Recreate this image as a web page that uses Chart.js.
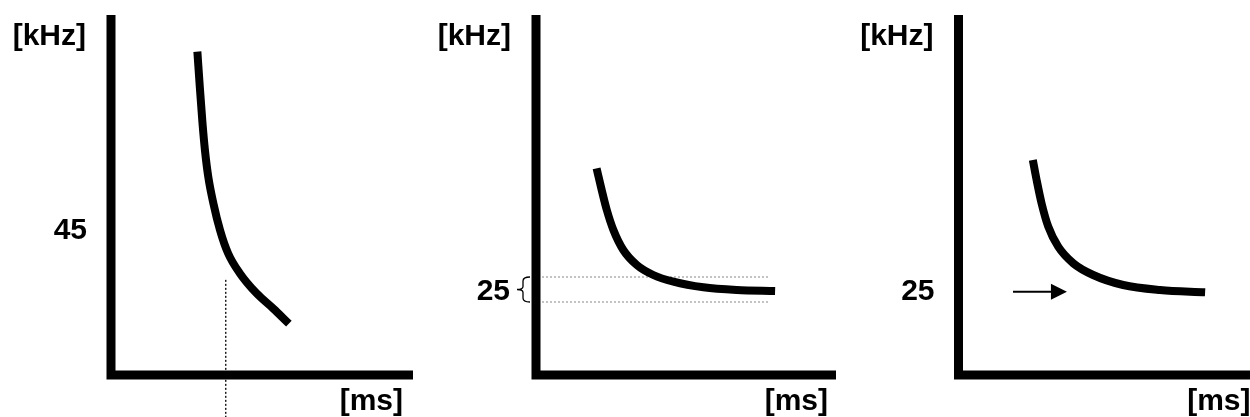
<!DOCTYPE html>
<html lang="en">
<head>
<meta charset="UTF-8">
<title>Frequency vs time</title>
<script src="https://cdn.jsdelivr.net/npm/chart.js"></script>
<style>
    body { margin: 0; background: #fff; overflow: hidden; }
    .wrap { position: relative; width: 1250px; height: 417px; }
    canvas { position: absolute; top: 0; }
</style>
</head>
<body>
<div class="wrap">
    <canvas id="p1" width="420" height="417" style="left:0px"></canvas>
    <canvas id="p2" width="420" height="417" style="left:420px"></canvas>
    <canvas id="p3" width="410" height="417" style="left:840px"></canvas>
</div>
<script>
    // axis labels
    const yTitle = '[kHz]';
    const xTitle = '[ms]';

    // panel 1: steep curve, marker time
    const p1Time = [28.6, 29.4, 30.3, 31.1, 32.2, 33.9, 36.1, 38.8, 42.7, 48.2, 53.7, 58.9];
    const p1Freq = [100.6, 89.7, 78.3, 70.0, 61.7, 53.4, 45.1, 37.8, 31.6, 25.4, 20.7, 16.0];
    const p1Ticks = [45];
    const p1MarkerTime = 38.0;
    const p1MarkerFreq = [29.6, -13.1];

    // panel 2: curve settling inside a band around 25
    const p2Time = [20.2, 21.9, 23.6, 25.8, 29.1, 33.6, 39.1, 45.8, 55.8, 66.9, 79.7];
    const p2Freq = [62.0, 55.5, 49.5, 43.5, 37.5, 33.0, 30.0, 28.0, 26.3, 25.5, 25.2];
    const p2Ticks = [25];
    const p2BandLow = 21.9;
    const p2BandHigh = 29.4;
    const p2BandTime = [2.0, 77.7];

    // panel 3: curve approaching 25, arrow
    const p3Time = [25.5, 26.8, 28.5, 30.8, 34.2, 39.4, 46.2, 56.5, 69.1, 84.6];
    const p3Freq = [64.5, 58.5, 51.5, 44.5, 38.5, 33.5, 30.0, 27.0, 25.5, 24.8];
    const p3Ticks = [25];
    const p3ArrowTime = [18.7, 37.2];
    const p3ArrowFreq = 25;

    const FONT = '"Liberation Sans", Arial, sans-serif';

    const extras = {
        id: 'extras',
        afterDraw(chart) {
            const o = chart.options.plugins.extras || {};
            const ctx = chart.ctx;
            const a = chart.chartArea;
            const xs = chart.scales.x, ys = chart.scales.y;
            ctx.save();
            // axes
            ctx.strokeStyle = '#000';
            ctx.lineWidth = 9;
            ctx.lineJoin = 'miter';
            ctx.lineCap = 'butt';
            ctx.beginPath();
            ctx.moveTo(a.left, a.top);
            ctx.lineTo(a.left, a.bottom);
            ctx.lineTo(a.right, a.bottom);
            ctx.stroke();
            // titles
            ctx.fillStyle = '#000';
            ctx.font = 'bold 30px ' + FONT;
            ctx.textAlign = 'right';
            ctx.textBaseline = 'alphabetic';
            ctx.fillText(yTitle, a.left - 25, 45);
            ctx.fillText(xTitle, a.left + 292, 410);

            if (o.brace) {
                let y1 = ys.getPixelForValue(o.brace[1]);
                let y2 = ys.getPixelForValue(o.brace[0]);
                let ym = (y1 + y2) / 2;
                let xr = a.left - 6, xm = a.left - 13, xl = a.left - 19;
                ctx.lineWidth = 1.3;
                ctx.beginPath();
                ctx.moveTo(xr, y1);
                ctx.quadraticCurveTo(xm, y1, xm, y1 + 4);
                ctx.lineTo(xm, ym - 3);
                ctx.quadraticCurveTo(xm, ym, xl, ym);
                ctx.quadraticCurveTo(xm, ym, xm, ym + 3);
                ctx.lineTo(xm, y2 - 4);
                ctx.quadraticCurveTo(xm, y2, xr, y2);
                ctx.stroke();
            }
            if (o.arrow) {
                let y = ys.getPixelForValue(o.arrow.y);
                let x0 = xs.getPixelForValue(o.arrow.x[0]);
                let x1 = xs.getPixelForValue(o.arrow.x[1]);
                ctx.lineWidth = 2;
                ctx.beginPath();
                ctx.moveTo(x0, y);
                ctx.lineTo(x1 - 10, y);
                ctx.stroke();
                ctx.beginPath();
                ctx.moveTo(x1, y);
                ctx.lineTo(x1 - 16, y - 8);
                ctx.lineTo(x1 - 16, y + 8);
                ctx.closePath();
                ctx.fill();
            }
            ctx.restore();
        }
    };

    function toPoints(xs, ys) {
        return xs.map((x, i) => ({ x: x, y: ys[i] }));
    }

    function curve(xs, ys) {
        return {
            data: toPoints(xs, ys),
            borderColor: '#000',
            borderWidth: 8,
            borderCapStyle: 'butt',
            pointRadius: 0,
            cubicInterpolationMode: 'monotone',
            fill: false
        };
    }

    function dotted(points, color, width) {
        return {
            data: points,
            borderColor: color,
            borderWidth: width,
            borderDash: [2, 2],
            pointRadius: 0,
            tension: 0,
            fill: false,
            clip: false
        };
    }

    function makePanel(id, datasets, ticks, yMax, left, right, tickPad, extra) {
        let canvas = document.getElementById(id);
        new Chart(canvas, {
            type: 'line',
            data: { datasets: datasets },
            options: {
                responsive: false,
                animation: false,
                devicePixelRatio: 1,
                layout: { padding: { top: 15, bottom: 42, left: 0, right: canvas.width - right } },
                plugins: { legend: { display: false }, tooltip: { enabled: false }, extras: extra },
                scales: {
                    x: { type: 'linear', min: 0, max: 100, display: false },
                    y: {
                        type: 'linear', min: 0, max: yMax,
                        grid: { display: false, drawTicks: false },
                        border: { display: false },
                        ticks: { color: '#000', padding: tickPad, font: { family: FONT, size: 30, weight: 'bold' } },
                        afterBuildTicks: s => { s.ticks = ticks.map(v => ({ value: v })); },
                        afterFit: s => {
                            s.width = left;
                            s.paddingTop = 0;
                            s.paddingBottom = 0;
                        }
                    }
                }
            },
            plugins: [extras]
        });
    }

    makePanel('p1', [
        curve(p1Time, p1Freq),
        dotted(p1MarkerFreq.map(f => ({ x: p1MarkerTime, y: f })), '#000', 1.3)
    ], p1Ticks, 112, 111, 413, 24, {});

    makePanel('p2', [
        curve(p2Time, p2Freq),
        dotted(p2BandTime.map(t => ({ x: t, y: p2BandHigh })), '#888', 1),
        dotted(p2BandTime.map(t => ({ x: t, y: p2BandLow })), '#888', 1)
    ], p2Ticks, 108, 116, 416, 26, { brace: [p2BandLow, p2BandHigh] });

    makePanel('p3', [
        curve(p3Time, p3Freq)
    ], p3Ticks, 108, 118.5, 410, 24, { arrow: { x: p3ArrowTime, y: p3ArrowFreq } });
</script>
</body>
</html>
